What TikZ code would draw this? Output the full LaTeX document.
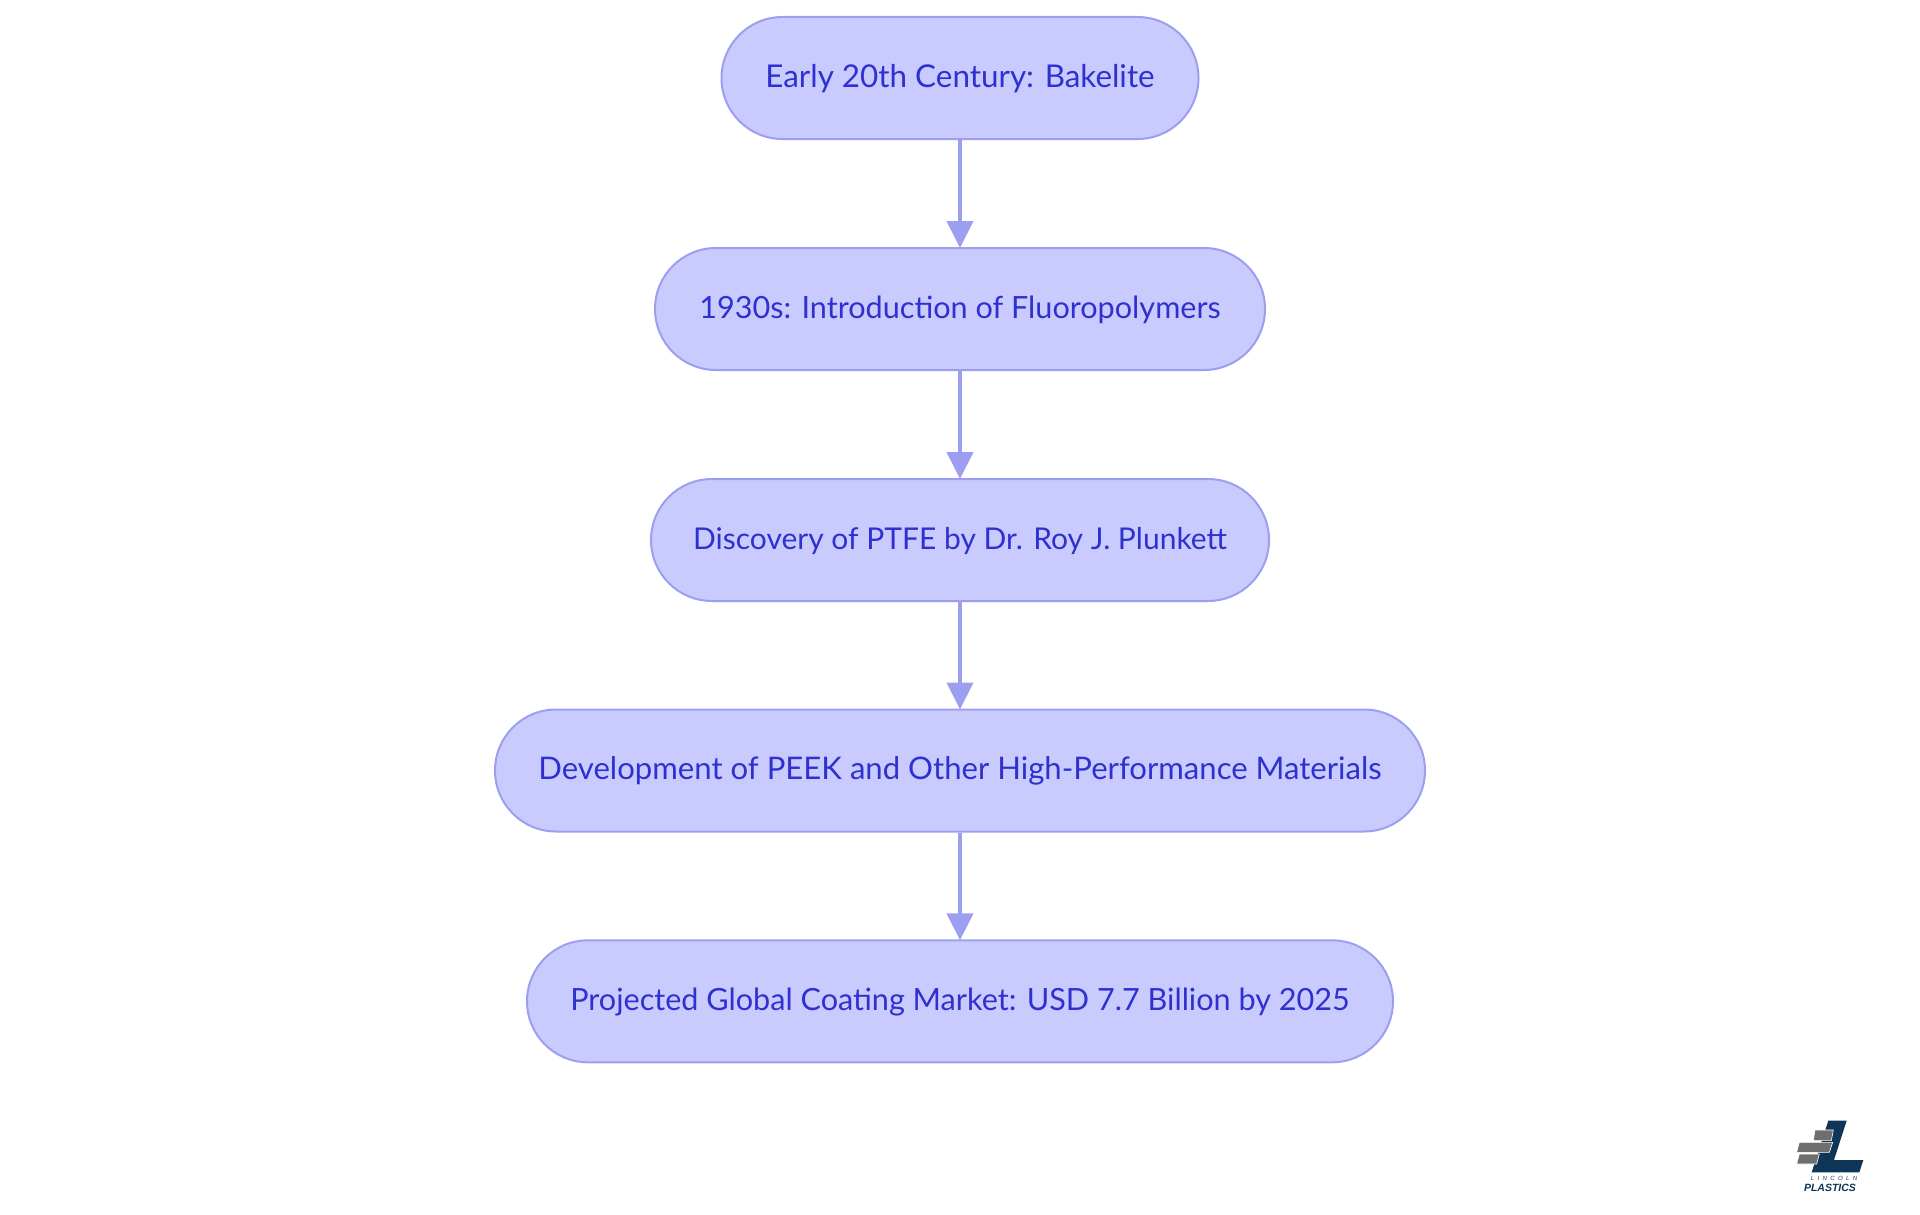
\documentclass[tikz,border=0pt]{standalone}
\usepackage{fontspec}
\setmainfont{Lato}
\newfontfamily\logofont{Liberation Sans}
\usetikzlibrary{arrows.meta}
\definecolor{nodefill}{HTML}{C9CBFF}
\definecolor{nodeline}{HTML}{9C9FEF}
\definecolor{nodetext}{HTML}{2E31CF}
\definecolor{logoblue}{HTML}{0F3557}
\definecolor{logogray}{HTML}{6E6E6E}
\tikzset{
  pill/.style={shape=rectangle,draw=nodeline,fill=nodefill,line width=2pt,rounded corners=61pt,
    minimum height=122pt,inner sep=0pt,text=nodetext,text height=22pt,text depth=4pt},
  sized/.style={font=\fontsize{#1}{36}\selectfont},
  link/.style={draw=nodeline,line width=4pt,shorten >=-1pt,-{Triangle[length=27pt,width=26pt]}},
  brick/.style={fill=logogray,draw=white,line width=0.6pt},
}
\begin{document}
\begin{tikzpicture}[x=1pt,y=-1pt]
\path[use as bounding box,fill=white] (0,0) rectangle (1920,1215);
\node[pill,sized=31.4,minimum width=477pt,text height=23pt] (a) at (960,78) {Early 20th Century: Bakelite};
\node[pill,sized=30.6,minimum width=610pt] (b) at (960,309) {1930s: Introduction of Fluoropolymers};
\node[pill,sized=30,minimum width=618pt] (c) at (960,540) {Discovery of PTFE by Dr. Roy J. Plunkett};
\node[pill,sized=31.1,minimum width=930pt,text height=21pt] (d) at (960,770.5) {Development of PEEK and Other High-Performance Materials};
\node[pill,sized=30.6,minimum width=866pt] (e) at (960,1001.3) {Projected Global Coating Market: USD 7.7 Billion by 2025};
\draw[link] (a) -- (b);
\draw[link] (b) -- (c);
\draw[link] (c) -- (d);
\draw[link] (d) -- (e);
% logo
\begin{scope}[shift={(1760,1100)},x=0.3333pt,y=-0.3333pt]
\fill[logoblue] (205,62) -- (260,62) -- (222,180) -- (310,180) -- (298,217) -- (155,217) -- cycle;
\draw[brick] (165,90) -- (220,90) -- (214,122) -- (160,122) -- cycle;
\draw[brick] (118,127) -- (218,127) -- (208,157) -- (110,157) -- cycle;
\draw[brick] (118,162) -- (178,162) -- (170,192) -- (110,192) -- cycle;
\node[inner sep=0pt,text=logoblue!80!gray,font=\logofont\itshape\fontsize{6}{7}\selectfont] (lg1) at (222,236) {L\hspace{3.4pt}I\hspace{3.4pt}N\hspace{3.4pt}C\hspace{3.4pt}O\hspace{3.4pt}L\hspace{3.4pt}N};
\node[inner sep=0pt,text=logoblue,font=\logofont\bfseries\itshape\fontsize{10.5}{12}\selectfont] (lg2) at (210,265) {PLASTICS};
\end{scope}
\end{tikzpicture}
\end{document}
